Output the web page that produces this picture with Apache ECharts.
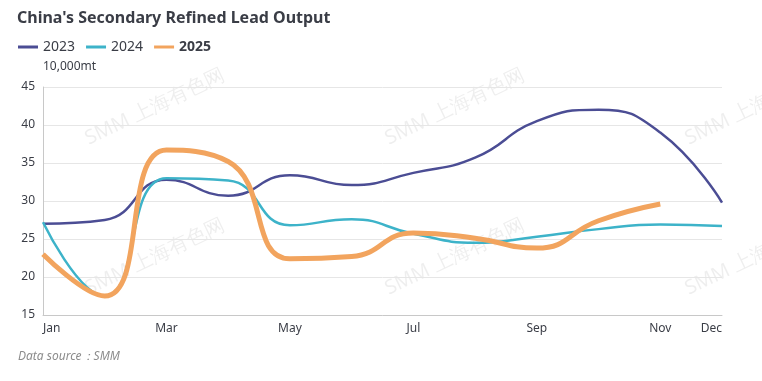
<!DOCTYPE html>
<html>
<head>
<meta charset="utf-8">
<script src="https://cdn.jsdelivr.net/npm/echarts@6/dist/echarts.min.js"></script>
<style>
html,body{margin:0;padding:0;background:#fff;}
#chart{width:762px;height:381px;}
</style>
</head>
<body>
<div id="chart"></div>
<script>
var months = ['Jan','Feb','Mar','Apr','May','Jun','Jul','Aug','Sep','Oct','Nov','Dec'];
var s2023 = [27.0, 27.5, 32.8, 30.7, 33.4, 32.1, 33.7, 35.7, 40.5, 42.0, 39.0, 29.8];
var s2024 = [27.2, 17.5, 33.0, 32.7, 26.8, 27.6, 25.7, 24.5, 25.3, 26.3, 26.9, 26.7];
var s2025 = [23.0, 17.5, 36.7, 35.2, 22.4, 22.7, 25.8, 25.1, 23.8, 27.4, 29.6];
var yTicks = [15, 20, 25, 30, 35, 40, 45];

var FONT = '"Noto Sans", "Open Sans", sans-serif';
var chart = echarts.init(document.getElementById('chart'), null, {renderer: 'canvas'});

var wm = [];
[[155,107],[455,107],[755,107],[155,257],[455,257],[755,257]].forEach(function(p){
  wm.push({
    type: 'text', x: p[0], y: p[1], rotation: 25.6 * Math.PI / 180, z: 0, silent: true,
    style: {text: 'SMM 上海有色网', fill: 'rgba(0,0,0,0.065)', font: '20px ' + FONT, align: 'center', verticalAlign: 'middle'}
  });
});
wm.push({
  type: 'text', left: 18, top: 351, z: 10,
  style: {text: 'Data source：SMM', fill: '#8c8c8c', font: 'italic 12px ' + FONT}
});

chart.setOption({
  animation: false,
  textStyle: {fontFamily: FONT},
  title: {
    text: "China's Secondary Refined Lead Output",
    left: 12, top: 5,
    textStyle: {fontSize: 16, fontWeight: 'bold', color: '#3a3d46', fontFamily: FONT}
  },
  legend: {
    left: 13, top: 35,
    itemWidth: 20, itemHeight: 3, itemGap: 11,
    icon: 'rect',
    textStyle: {fontSize: 14, color: '#3a3d46', fontFamily: FONT},
    data: [
      {name: '2023'},
      {name: '2024'},
      {name: '2025', textStyle: {fontWeight: 'bold'}}
    ]
  },
  grid: {left: 43, right: 40, top: 87, bottom: 66, containLabel: false},
  xAxis: {
    type: 'category',
    data: months,
    boundaryGap: false,
    axisLine: {lineStyle: {color: '#c8c8c8'}},
    axisTick: {show: false},
    axisLabel: {
      color: '#3a3d46', fontSize: 12, margin: 8,
      interval: function(i){ return i % 2 === 0 || i === 11; },
      alignMinLabel: 'left', alignMaxLabel: 'right'
    }
  },
  yAxis: {
    type: 'value',
    min: yTicks[0], max: yTicks[yTicks.length - 1], interval: 5,
    name: '10,000mt',
    nameLocation: 'end',
    nameGap: 14,
    nameTextStyle: {align: 'left', color: '#3a3d46', fontSize: 12},
    axisLine: {show: true, lineStyle: {color: '#c8c8c8'}},
    axisTick: {show: false},
    axisLabel: {color: '#3a3d46', fontSize: 12, margin: 8},
    splitLine: {lineStyle: {color: '#e6e6e6'}}
  },
  series: [
    {name: '2023', type: 'line', data: s2023, smooth: true, symbol: 'none',
     itemStyle: {color: '#4b4d94'}, lineStyle: {width: 2.5, color: '#4b4d94'}, z: 3},
    {name: '2024', type: 'line', data: s2024, smooth: true, symbol: 'none',
     itemStyle: {color: '#3db3c9'}, lineStyle: {width: 2.5, color: '#3db3c9'}, z: 4},
    {name: '2025', type: 'line', data: s2025, smooth: true, symbol: 'none',
     itemStyle: {color: '#f2a45e'}, lineStyle: {width: 5, color: '#f2a45e'}, z: 5}
  ],
  graphic: wm
});
</script>
</body>
</html>
